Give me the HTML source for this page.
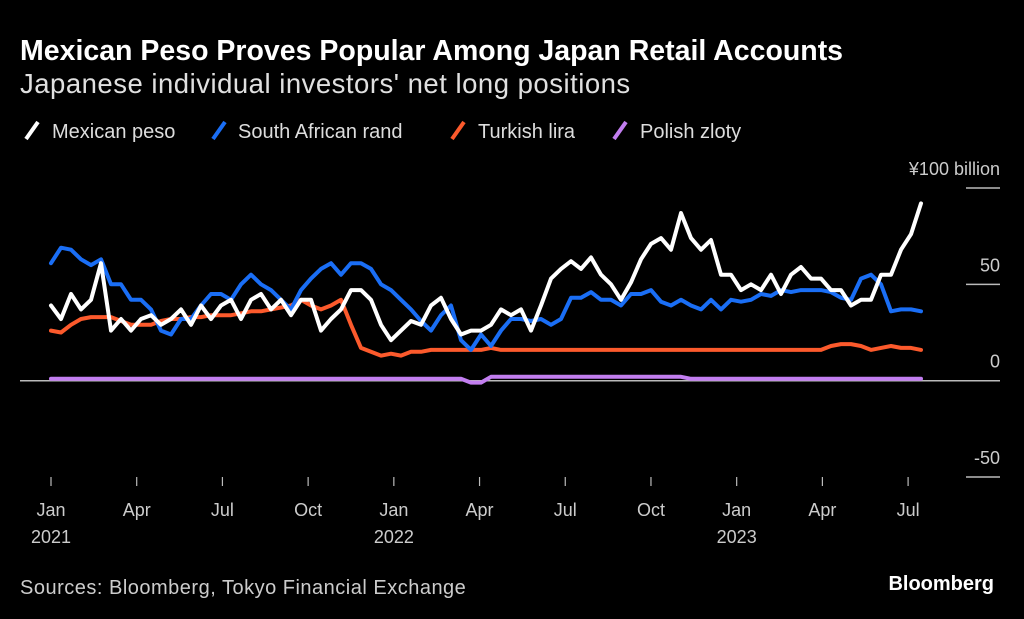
<!DOCTYPE html>
<html><head><meta charset="utf-8">
<style>
body{margin:0;background:#000;width:1024px;height:619px;overflow:hidden;font-family:"Liberation Sans",sans-serif;color:#fff}
svg{position:absolute;left:0;top:0}
</style></head>
<body>
<svg width="1024" height="619" id="chart">
<text x="20" y="60" font-size="28.5" font-weight="bold" fill="#fff">Mexican Peso Proves Popular Among Japan Retail Accounts</text>
<text x="20" y="93" font-size="27.5" letter-spacing="0.5" fill="#e0e0e0">Japanese individual investors' net long positions</text>
<g font-size="20" fill="#ddd">
<g><line x1="26" y1="139" x2="38" y2="122" stroke="#fff" stroke-width="4"/><text x="52" y="138">Mexican peso</text></g>
<g><line x1="213" y1="139" x2="225" y2="122" stroke="#1a6ef5" stroke-width="4"/><text x="238" y="138">South African rand</text></g>
<g><line x1="452" y1="139" x2="464" y2="122" stroke="#fc5a2c" stroke-width="4"/><text x="478" y="138">Turkish lira</text></g>
<g><line x1="614" y1="139" x2="626" y2="122" stroke="#c27ef0" stroke-width="4"/><text x="640" y="138">Polish zloty</text></g>
</g>
<g id="axes"></g>
<g id="series"></g>
<text x="20" y="594" font-size="20" letter-spacing="0.5" fill="#ccc">Sources: Bloomberg, Tokyo Financial Exchange</text>
<text x="994" y="590" font-size="20" font-weight="bold" fill="#fff" text-anchor="end">Bloomberg</text>
</svg>
<script>
const yTicks=[100,50,0,-50];
const yTickLabels=["¥100 billion","50","0","-50"];
const monthTicks=[0,3,6,9,12,15,18,21,24,27,30];
const monthLabels=["Jan","Apr","Jul","Oct","Jan","Apr","Jul","Oct","Jan","Apr","Jul"];
const yearLabels=["2021","","","","2022","","","","2023","",""];
// periods: ~10-day intervals starting early Jan 2021
const periodStart=0.0; const periodStepMonths=0.35;
const peso=[39,32,45,37,42,61,26,32,26,32,34,29,32,37,29,39,32,39,42,32,42,45,37,42,34,42,42,26,32,37,47,47,42,29,21,26,31,29,39,43,32,24,26,26,29,37,34,37,26,39,53,58,62,58,64,55,50,42,51,63,71,74,68,87,74,68,73,55,55,47,50,47,55,45,55,59,53,53,47,47,39,42,42,55,55,68,76,92];
const rand=[61,69,68,63,60,63,50,50,42,42,37,26,24,32,32,39,45,45,42,50,55,50,47,42,37,47,53,58,61,55,61,61,58,50,47,42,37,31,26,34,39,21,16,24,18,26,32,32,31,32,29,32,43,43,46,42,42,39,45,45,47,41,39,42,39,37,42,37,42,41,42,45,44,47,46,47,47,47,46,43,42,53,55,50,36,37,37,36];
const lira=[26,25,29,32,33,33,33,31,29,29,29,31,32,32,33,33,34,34,34,35,36,36,37,38,39,42,39,37,39,42,29,17,15,13,14,13,15,15,16,16,16,16,16,16,17,16,16,16,16,16,16,16,16,16,16,16,16,16,16,16,16,16,16,16,16,16,16,16,16,16,16,16,16,16,16,16,16,16,18,19,19,18,16,17,18,17,17,16];
const zloty=[1,1,1,1,1,1,1,1,1,1,1,1,1,1,1,1,1,1,1,1,1,1,1,1,1,1,1,1,1,1,1,1,1,1,1,1,1,1,1,1,1,1,-1,-1,2,2,2,2,2,2,2,2,2,2,2,2,2,2,2,2,2,2,2,2,1,1,1,1,1,1,1,1,1,1,1,1,1,1,1,1,1,1,1,1,1,1,1,1];
const NS="http://www.w3.org/2000/svg";
const x0=51, pxPerMonth=28.57;
function xMonth(m){return x0+m*pxPerMonth;}
function xPeriod(i){return xMonth(periodStart+i*periodStepMonths);}
function yVal(v){return 380.7-v*1.927;}
const axes=document.getElementById('axes');
function mk(tag,attrs,parent){const e=document.createElementNS(NS,tag);for(const k in attrs)e.setAttribute(k,attrs[k]);parent.appendChild(e);return e;}
yTicks.forEach((v,i)=>{
  const y=yVal(v);
  if(v===0){const l=mk('line',{x1:20,x2:1000,y1:y,y2:y,stroke:'#bbb','stroke-width':1.5},axes);
    
    }
  else{const l=mk('line',{x1:966,x2:1000,y1:y,y2:y,stroke:'#bbb','stroke-width':1.5},axes);
    
    }
  const t=mk('text',{x:1000,y:y-13,'font-size':18,fill:'#ccc','text-anchor':'end'},axes);
  t.textContent=yTickLabels[i];
  
  
});
monthTicks.forEach((m,i)=>{
  const x=xMonth(m);
  const tk=mk('line',{x1:x,x2:x,y1:477,y2:486,stroke:'#bbb','stroke-width':1.2},axes);
  
  
  const t=mk('text',{x:x,y:516,'font-size':18,fill:'#ccc','text-anchor':'middle'},axes);
  t.textContent=monthLabels[i];
  
  
  if(yearLabels[i]){const yt=mk('text',{x:x,y:543,'font-size':18,fill:'#ccc','text-anchor':'middle'},axes);
    yt.textContent=yearLabels[i];
    
    }
});
const ser=document.getElementById('series');
function line(arr,color,name){
  const d=arr.map((v,i)=>(i?'L':'M')+xPeriod(i).toFixed(1)+','+yVal(v).toFixed(1)).join('');
  const p=mk('path',{d:d,fill:'none',stroke:color,'stroke-width':4,'stroke-linejoin':'round','stroke-linecap':'round'},ser);
  
  
}
line(zloty,'#c27ef0','polish-zloty-line');
line(lira,'#fc5a2c','turkish-lira-line');
line(rand,'#1a6ef5','south-african-rand-line');
line(peso,'#ffffff','mexican-peso-line');
</script>
</body></html>
